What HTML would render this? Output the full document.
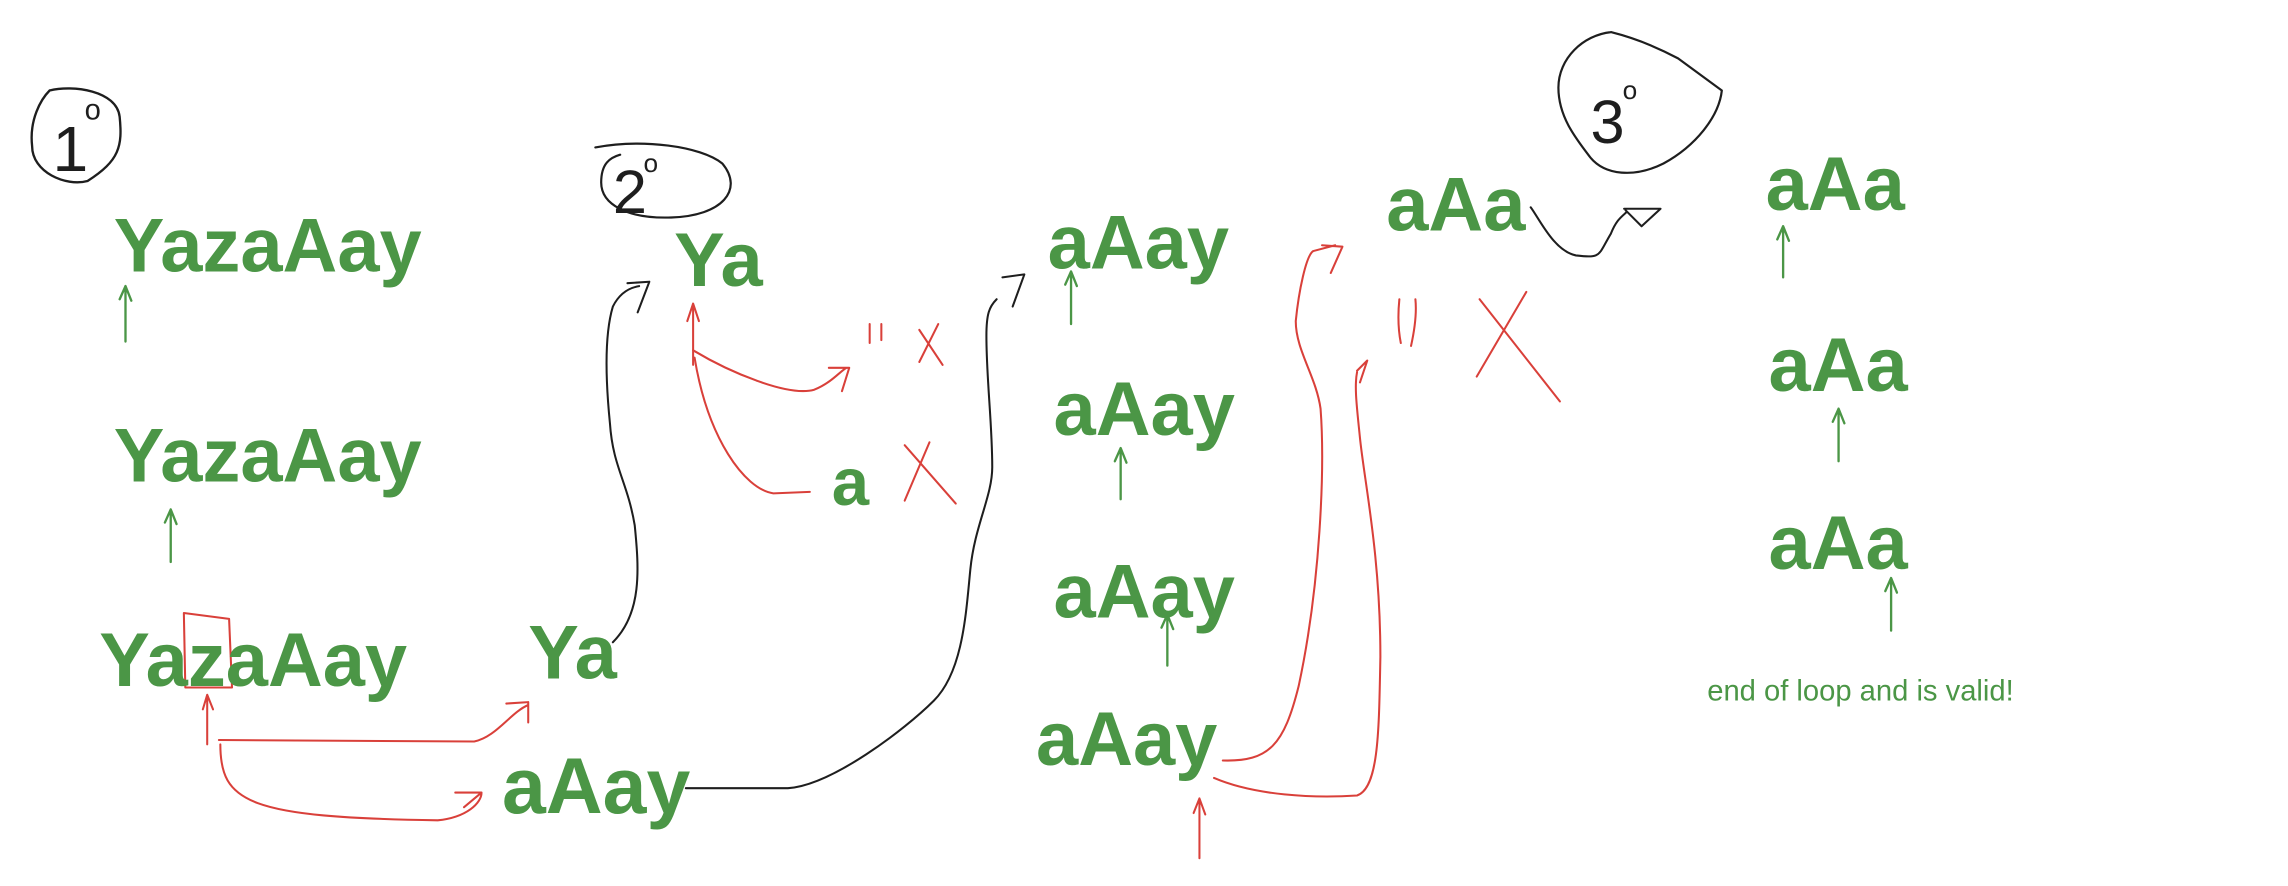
<!DOCTYPE html>
<html><head><meta charset="utf-8"><style>
html,body{margin:0;padding:0;background:#fff;width:2288px;height:886px;overflow:hidden}
svg{display:block}
text{font-family:"Liberation Sans",sans-serif;font-weight:bold;fill:#4b9646}
</style></head><body>
<svg width="2288" height="886" viewBox="0 0 1568 607" preserveAspectRatio="none" xmlns="http://www.w3.org/2000/svg">
<g fill="none" stroke-linecap="round" stroke-linejoin="round">
<!-- circle 1 -->
<path d="M34 62 C50 58 80 62 82 80 C84 100 82 110 60 124 C45 128 22 118 22 100 C20 82 28 68 34 62" stroke="#1e1e1e" stroke-width="1.6"/>
<!-- circle 2 -->
<path d="M408 101 C440 95 480 100 495 112 C510 130 495 148 460 149 C430 150 412 140 412 125 C412 112 418 108 425 106" stroke="#1e1e1e" stroke-width="1.5"/>
<!-- circle 3 -->
<path d="M1104 22 C1120 26 1135 32 1150 40 L1180 62 C1178 80 1162 100 1140 112 C1120 122 1100 120 1090 108 C1080 95 1068 80 1068 60 C1068 40 1085 24 1104 22" stroke="#1e1e1e" stroke-width="1.5"/>
<!-- green arrows -->
<g stroke="#4b9646" stroke-width="1.6">
<path d="M86 234 V196 M82 205 L86 196 L90 206"/>
<path d="M117 385 V349 M113 358 L117 349 L121 359"/>
<path d="M734 222 V186 M730 195 L734 186 L738 196"/>
<path d="M768 342 V307 M764 316 L768 307 L772 317"/>
<path d="M800 456 V421 M796 430 L800 421 L804 431"/>
<path d="M1222 190 V155 M1218 164 L1222 155 L1226 165"/>
<path d="M1260 316 V280 M1256 289 L1260 280 L1264 290"/>
<path d="M1296 432 V396 M1292 405 L1296 396 L1300 406"/>
</g>
<!-- red -->
<g stroke="#d9403a" stroke-width="1.4">
<path d="M126 420 L157 424 L159 471 L127 471 Z"/>
<path d="M142 510 V476 M139 486 L142 476 L146 486"/>
<path d="M150 507 L325 508 C340 505 350 488 362 483 M347 482 L362 481 L362 495"/>
<path d="M151 510 C151 550 170 560 300 562 C320 560 330 550 330 543 M312 543 L330 543 L318 553"/>
<path d="M475 250 V210 M471 220 L475 208 L479 220"/>
<path d="M475 240 C500 255 540 272 558 267 C570 262 575 255 580 252 M568 252 L582 252 L577 268"/>
<path d="M476 245 C485 300 510 335 530 338 L555 337"/>
<path d="M596 222 V235 M604 222 V233"/>
<path d="M630 226 L646 250 M643 222 L630 248"/>
<path d="M620 305 L655 345 M637 303 L620 343"/>
<path d="M822 588 V547 M818 557 L822 547 L826 558"/>
<path d="M838 521 C870 522 880 510 890 470 C905 400 908 320 905 280 C902 258 888 240 888 220 C890 200 895 175 900 172 L915 168 M906 168 L920 169 L912 187"/>
<path d="M832 533 C860 545 900 547 930 545 C945 540 945 500 946 450 C946 380 935 330 932 300 C930 280 928 265 930 255 M930 254 L937 247 L932 262"/>
<path d="M959 205 C958 215 958 225 960 235 M970 205 C971 215 969 228 967 237"/>
<path d="M1046 200 L1012 258 M1014 205 L1069 275"/>
</g>
<!-- black connectors -->
<g stroke="#1e1e1e" stroke-width="1.4">
<path d="M420 440 C440 420 438 390 435 360 C430 330 420 320 418 290 C415 260 414 230 420 210 C425 200 432 197 438 196 M430 194 L445 193 L437 214"/>
<path d="M470 540 L540 540 C570 538 620 500 640 480 C660 460 662 420 665 390 C668 360 680 340 680 320 C680 290 676 260 676 230 C676 215 678 210 683 205 M687 190 L702 188 L694 210"/>
<path d="M1049 142 C1055 150 1065 172 1080 175 C1098 177 1095 175 1104 160 C1108 150 1112 148 1115 145 M1113 143 L1138 143 L1125 155 L1114 144"/>
</g>
</g>
<!-- text -->
<g font-size="52">
<text x="78" y="186">YazaAay</text>
<text x="78" y="330">YazaAay</text>
<text x="68" y="470">YazaAay</text>
<text x="362" y="465">Ya</text>
<text x="344" y="557" font-size="54">aAay</text>
<text x="462" y="196">Ya</text>
<text x="570" y="346" font-size="46">a</text>
<text x="718" y="184">aAay</text>
<text x="722" y="298">aAay</text>
<text x="722" y="423">aAay</text>
<text x="710" y="524">aAay</text>
<text x="950" y="158">aAa</text>
<text x="1210" y="144">aAa</text>
<text x="1212" y="268">aAa</text>
<text x="1212" y="390">aAa</text>
</g>
<text x="1170" y="480" font-size="20" style="font-weight:normal">end of loop and is valid!</text>
<g>
<text x="36" y="117" font-size="44" style="fill:#1e1e1e;font-weight:normal">1</text>
<text x="58" y="82" font-size="20" style="fill:#1e1e1e;font-weight:normal">o</text>
<text x="420" y="146" font-size="42" style="fill:#1e1e1e;font-weight:normal">2</text>
<text x="441" y="118" font-size="18" style="fill:#1e1e1e;font-weight:normal">o</text>
<text x="1090" y="98" font-size="42" style="fill:#1e1e1e;font-weight:normal">3</text>
<text x="1112" y="68" font-size="18" style="fill:#1e1e1e;font-weight:normal">o</text>
</g>
</svg>
</body></html>
